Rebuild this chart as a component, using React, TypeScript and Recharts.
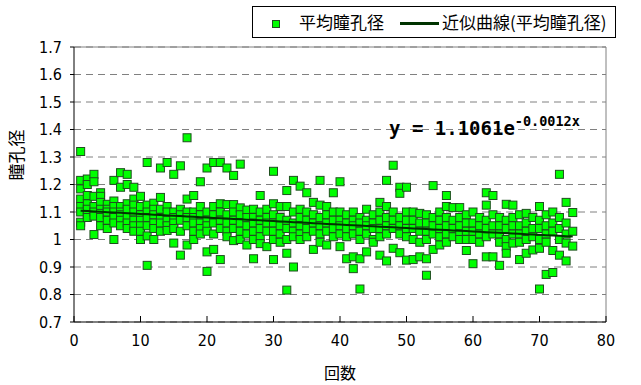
import React from 'react';
import { ScatterChart, Scatter, XAxis, YAxis, CartesianGrid, ReferenceLine } from 'recharts';

const pupilByRun: number[][] = [
  [1.32, 1.215, 1.184, 1.147, 1.12, 1.1, 1.063, 1.05],
  [1.22, 1.2, 1.16, 1.13, 1.11, 1.09, 1.08],
  [1.237, 1.21, 1.157, 1.12, 1.1, 1.085, 1.018],
  [1.17, 1.157, 1.135, 1.11, 1.095, 1.05, 1.08],
  [1.128, 1.11, 1.09, 1.07, 1.04, 1.1],
  [1.215, 1.14, 1.12, 1.1, 1.08, 1.0, 1.06],
  [1.243, 1.19, 1.12, 1.1, 1.09, 1.07, 1.05],
  [1.237, 1.2, 1.13, 1.11, 1.08, 1.06, 1.04],
  [1.19, 1.147, 1.125, 1.1, 1.07, 1.05, 1.03],
  [1.157, 1.12, 1.09, 1.07, 1.05, 1.0, 1.03],
  [1.28, 1.125, 1.1, 1.08, 1.05, 1.013, 0.906],
  [1.132, 1.11, 1.09, 1.06, 1.04, 1.0],
  [1.26, 1.153, 1.11, 1.08, 1.06, 1.03],
  [1.28, 1.12, 1.1, 1.07, 1.05, 1.033],
  [1.237, 1.1, 1.08, 1.06, 1.04, 0.987],
  [1.268, 1.11, 1.09, 1.07, 1.03, 0.943],
  [1.37, 1.147, 1.1, 1.08, 1.05, 0.98],
  [1.16, 1.1, 1.08, 1.06, 1.03, 1.0],
  [1.21, 1.12, 1.09, 1.06, 1.04, 1.02],
  [1.26, 1.1, 1.07, 1.05, 1.03, 0.955, 0.884],
  [1.28, 1.12, 1.09, 1.06, 1.02, 0.964],
  [1.28, 1.13, 1.1, 1.07, 1.04, 0.927],
  [1.26, 1.127, 1.09, 1.06, 1.03, 1.01],
  [1.233, 1.127, 1.1, 1.07, 1.04, 0.996],
  [1.274, 1.115, 1.09, 1.06, 1.03, 1.0],
  [1.107, 1.08, 1.05, 1.02, 0.98],
  [1.11, 1.08, 1.06, 1.03, 1.0, 0.93],
  [1.16, 1.1, 1.07, 1.04, 1.01, 0.985],
  [1.11, 1.08, 1.06, 1.03, 0.974],
  [1.248, 1.13, 1.09, 1.06, 1.03, 1.0, 0.927],
  [1.12, 1.08, 1.05, 1.02, 0.99],
  [1.178, 1.12, 1.07, 1.04, 1.0, 0.95, 0.816],
  [1.215, 1.1, 1.06, 1.03, 1.01, 0.9],
  [1.194, 1.11, 1.08, 1.05, 1.02, 1.0],
  [1.17, 1.1, 1.07, 1.04, 1.01],
  [1.135, 1.09, 1.06, 1.03, 0.964],
  [1.215, 1.125, 1.08, 1.05, 1.02, 0.99],
  [1.12, 1.09, 1.06, 1.03, 0.98],
  [1.17, 1.1, 1.07, 1.04, 1.01],
  [1.21, 1.1, 1.07, 1.05, 1.02, 0.974],
  [1.09, 1.06, 1.04, 1.01, 0.93],
  [1.1, 1.07, 1.05, 1.02, 0.937, 0.894],
  [1.08, 1.06, 1.03, 1.0, 0.93, 0.82],
  [1.11, 1.07, 1.05, 1.02, 0.955],
  [1.09, 1.06, 1.04, 1.0, 0.99],
  [1.135, 1.1, 1.07, 1.04, 1.01, 0.943],
  [1.215, 1.12, 1.08, 1.05, 1.02, 0.922],
  [1.27, 1.1, 1.07, 1.04, 0.968],
  [1.19, 1.168, 1.08, 1.05, 1.02, 0.952],
  [1.19, 1.1, 1.07, 1.04, 1.01, 0.925],
  [1.1, 1.07, 1.04, 1.0, 0.927],
  [1.095, 1.06, 1.03, 0.99, 0.937],
  [1.09, 1.06, 1.03, 1.0, 0.93, 0.87],
  [1.196, 1.08, 1.05, 1.02, 0.964],
  [1.1, 1.07, 1.04, 1.01, 0.98],
  [1.16, 1.12, 1.08, 1.05, 1.02, 0.99],
  [1.116, 1.07, 1.04, 1.01],
  [1.116, 1.08, 1.05, 1.02, 1.0],
  [1.09, 1.06, 1.03, 1.0, 0.96],
  [1.1, 1.06, 1.03, 1.0, 0.912],
  [1.08, 1.05, 1.02, 0.99],
  [1.17, 1.125, 1.07, 1.04, 1.01, 0.937],
  [1.16, 1.09, 1.05, 1.02, 0.937],
  [1.08, 1.05, 1.02, 0.99, 0.906],
  [1.128, 1.07, 1.04, 1.0, 0.974, 0.95],
  [1.125, 1.08, 1.05, 1.02, 0.987],
  [1.09, 1.05, 1.02, 0.99, 0.927],
  [1.095, 1.06, 1.03, 1.0, 0.95],
  [1.08, 1.04, 1.01, 0.962],
  [1.12, 1.07, 1.04, 1.0, 0.968, 0.82],
  [1.09, 1.05, 1.02, 0.99, 0.873],
  [1.1, 1.06, 1.03, 0.96, 0.88],
  [1.237, 1.08, 1.04, 1.0, 0.943],
  [1.135, 1.06, 1.02, 0.987, 0.922],
  [1.098, 1.03, 0.976],
];

const xTicks = [0, 10, 20, 30, 40, 50, 60, 70, 80];
const yTicks = [0.7, 0.8, 0.9, 1, 1.1, 1.2, 1.3, 1.4, 1.5, 1.6, 1.7];
const fitA = 1.1061;
const fitB = -0.0012;

const points = pupilByRun.flatMap((vals, i) => vals.map((v) => ({ x: i + 1, y: v })));
const trend = pupilByRun.map((_, i) => ({ x: i + 1, y: fitA * Math.exp(fitB * (i + 1)) }));

const Marker = (props: any) => {
  const { cx, cy } = props;
  if (cx == null || cy == null) return null;
  return <rect x={cx - 4} y={cy - 4} width={8} height={8} fill="#00ff00" stroke="#1f4f1f" strokeWidth={1} />;
};

const font = '"Liberation Sans Narrow", "DejaVu Sans Condensed", "Liberation Sans", Arial, sans-serif';
const jp = '"Noto Sans CJK JP", sans-serif';
const mono = '"DejaVu Sans Mono", "Liberation Mono", monospace';

export default function App() {
  return (
    <div style={{ position: 'absolute', left: 0, top: 0, width: 641, height: 385, background: '#fff' }}>
      <ScatterChart width={641} height={385} margin={{ top: 47, right: 35, bottom: 33, left: 19 }}>
        <CartesianGrid horizontal vertical={false} stroke="#808080" strokeDasharray="7 5" />
        <XAxis
          type="number"
          dataKey="x"
          domain={[0, 80]}
          ticks={xTicks}
          allowDataOverflow
          axisLine={{ stroke: '#000' }}
          tickLine={{ stroke: '#000' }}
          tickSize={-6}
          tick={{ fill: '#000', fontSize: 16, fontFamily: font, dy: 17 }}
          height={30}
          label={{ value: '回数', position: 'insideBottom', offset: -27, fill: '#000', fontSize: 16, fontFamily: jp }}
        />
        <YAxis
          type="number"
          dataKey="y"
          domain={[0.7, 1.7]}
          ticks={yTicks}
          allowDataOverflow
          axisLine={{ stroke: '#000' }}
          tickLine={{ stroke: '#000' }}
          tickSize={4}
          tick={{ fill: '#000', fontSize: 16, fontFamily: font, dx: -6 }}
          width={55}
          label={{ value: '瞳孔径', angle: -90, position: 'insideLeft', offset: -2, dy: -4, fill: '#000', fontSize: 17, fontFamily: jp }}
        />
        <ReferenceLine y={1.7} stroke="#808080" />
        <ReferenceLine x={80} stroke="#808080" />
        <Scatter data={points} shape={<Marker />} isAnimationActive={false} />
        <Scatter
          data={trend}
          line={{ stroke: '#003300', strokeWidth: 2 }}
          shape={() => null}
          isAnimationActive={false}
        />
      </ScatterChart>
      <div
        style={{
          position: 'absolute', left: 252, top: 6, width: 364, height: 32, border: '1px solid #000',
          background: '#fff', boxSizing: 'border-box', fontFamily: jp, fontSize: 17, color: '#000',
        }}
      >
        <div style={{ position: 'absolute', left: 19, top: 13, width: 8, height: 8, background: '#00ff00', border: '1px solid #1f4f1f', boxSizing: 'border-box' }} />
        <div style={{ position: 'absolute', left: 46, top: 2, lineHeight: '25px', whiteSpace: 'nowrap' }}>平均瞳孔径</div>
        <div style={{ position: 'absolute', left: 147, top: 15, width: 39, height: 3, background: '#003300' }} />
        <div style={{ position: 'absolute', left: 189, top: 2, lineHeight: '25px', whiteSpace: 'nowrap' }}>近似曲線(平均瞳孔径)</div>
      </div>
      <div style={{ position: 'absolute', left: 389, top: 116, fontFamily: mono, fontWeight: 'bold', fontSize: 19, lineHeight: '24px', whiteSpace: 'nowrap', color: '#000' }}>
        y = 1.1061e<span style={{ fontSize: 13.5, position: 'relative', top: -9 }}>-0.0012x</span>
      </div>
    </div>
  );
}
